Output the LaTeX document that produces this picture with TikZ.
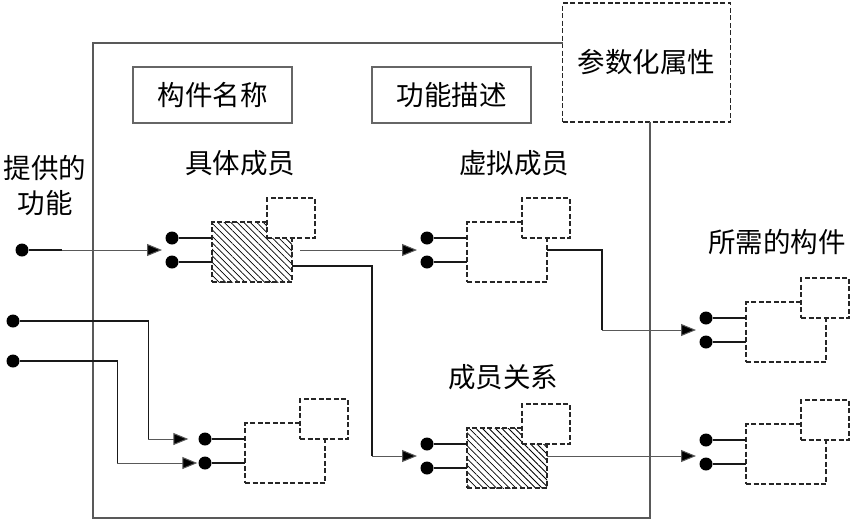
\documentclass[tikz,border=0pt]{standalone}
\usepackage{fontspec}
\newfontfamily\cjk{Noto Sans CJK SC}
\usetikzlibrary{positioning, arrows.meta, calc, patterns.meta}

% one member: main box, parameter box, two input pins
\newcommand{\addmember}[4]{%
  \node[mainbox, #4, anchor=north west] (#1) at (#2,#3) {};
  \node[parbox, anchor=north west] (#1-box) at ($(#1.north west)+(55,-24)$) {};
  \node[dot] (#1-a) at ($(#1.north west)+(-40,16)$) {};
  \node[dot] (#1-b) at ($(#1.north west)+(-40,40)$) {};
  \draw[wire] (#1-a) -- (#1-a -| #1.west);
  \draw[wire] (#1-b) -- (#1-b -| #1.west);
  \coordinate (#1-in) at ($(#1.north west)+(-50,28)$);
}

\begin{document}
\begin{tikzpicture}[
    x=1pt, y=-1pt,
    label/.style={font=\cjk\fontsize{27.5}{35}\selectfont, inner sep=0, align=center},
    namebox/.style={draw=black!60, line width=1.3pt, minimum width=159pt, minimum height=56pt,
                    font=\cjk\fontsize{27.5}{35}\selectfont, inner sep=0},
    mainbox/.style={draw=black!85, line width=1.4pt, dash pattern=on 5pt off 2.5pt,
                    minimum width=80pt, minimum height=60pt, inner sep=0, outer sep=0},
    parbox/.style={mainbox, fill=white, minimum width=48pt, minimum height=40pt},
    hatched/.style={pattern={Lines[angle=-45, distance=4.6pt, line width=0.75pt]}},
    plain/.style={fill=white},
    dot/.style={circle, fill=black, minimum size=13pt, inner sep=0},
    wire/.style={line width=1.6pt, black!90},
    arrow/.style={-{Triangle[length=15pt, width=12pt, fill=black]}, line width=1pt, draw=black!65},
    frame/.style={line width=1.2pt, black!65}
]
\useasboundingbox (0,0) rectangle (853,525);

% Parameter box and component frame
\node[mainbox, minimum width=168pt, minimum height=119pt, label] (Param) at (646.5,62.5) {参数化属性};
\coordinate (FrameTL) at (93,43);
\coordinate (FrameBR) at (650,518);
\draw[frame] (Param.west |- FrameTL) -- (FrameTL) -- (FrameTL |- FrameBR) -- (FrameBR) -- (FrameBR |- Param.south);

% Header boxes
\node[namebox] (Name) at (212.5,95) {构件名称};
\node[namebox] (Func) at (451.5,95) {功能描述};

% Labels
\node[label] (Provided) at (45,186) {提供的\\功能};
\node[label] (ConcreteLabel) at (240,163) {具体成员};
\node[label] (VirtualLabel) at (514,163) {虚拟成员};
\node[label] (RelationLabel) at (503,377) {成员关系};
\node[label] (RequiredLabel) at (777,242) {所需的构件};

% Members
\addmember{Concrete}{212}{222}{hatched}
\addmember{Virtual}{467}{222}{plain}
\addmember{Lower}{245}{423}{plain}
\addmember{Relation}{467}{428}{hatched}
\addmember{ReqA}{746}{302}{plain}
\addmember{ReqB}{746}{424}{plain}

% Provided inputs
\node[dot] (In) at (22,250) {};
\node[dot] (InA) at (13,321) {};
\node[dot] (InB) at (13,361) {};

% Connectors
\draw[wire] (In) -- ++(40,0) coordinate (stub);
\draw[arrow] (stub) -- (Concrete-in);

\draw[wire] (InA) -| ([xshift=-50pt]Lower-a.west) coordinate (bend3);
\draw[arrow] (bend3) -- ([xshift=-10pt]Lower-a.west);
\draw[wire] (InB) -| ([xshift=-81pt]Lower-b.west) coordinate (bend4);
\draw[arrow, shorten >=1pt] (bend4) -- (Lower-b.west);

\draw[arrow] ([xshift=8pt]Concrete.east |- Virtual-in) -- (Virtual-in);
\draw[wire] ([yshift=-14pt]Concrete.east) -| ([xshift=-45pt]Relation-in) coordinate (bend1);
\draw[arrow] (bend1) -- (Relation-in);

\draw[wire] (Virtual.east |- Virtual-in) -| ([xshift=-94pt]ReqA-in) coordinate (bend2);
\draw[arrow] (bend2) -- (ReqA-in);

\draw[arrow] (Relation.east |- Relation-in) -- (Relation-in -| ReqB-in);

\end{tikzpicture}
\end{document}
